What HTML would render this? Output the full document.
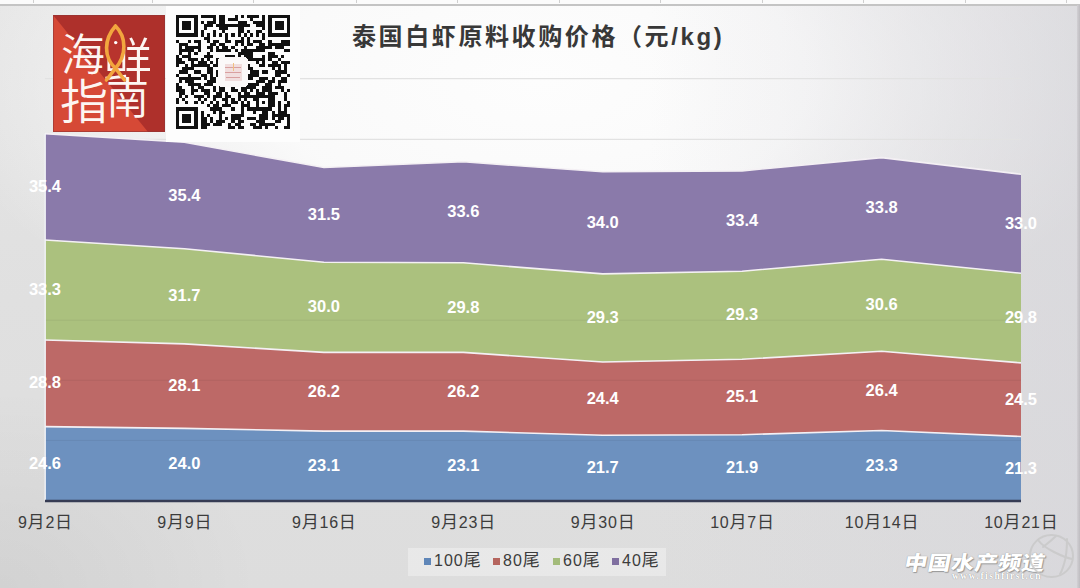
<!DOCTYPE html>
<html><head><meta charset="utf-8">
<style>
*{margin:0;padding:0;box-sizing:border-box}
html,body{width:1080px;height:588px;overflow:hidden}
body{position:relative;font-family:"Liberation Sans","Noto Sans CJK SC",sans-serif;
background:
 linear-gradient(to right, rgba(214,213,219,0) 650px, rgba(214,213,219,0.45) 1000px, rgba(214,213,219,0.6) 1080px),
 radial-gradient(ellipse 600px 300px at 540px 80px, rgba(253,253,253,1) 0%, rgba(251,251,251,0.95) 45%, rgba(248,248,248,0) 100%),
 radial-gradient(ellipse 260px 200px at 0px 588px, rgba(0,0,0,0.05) 0%, rgba(0,0,0,0) 100%),
 linear-gradient(to bottom, #e5e5e5 0px, #e0e0e0 300px, #dddddd 588px);
}
#topstrip{position:absolute;left:0;top:0;width:1080px;height:5.5px;background:#fbfbfb;border-bottom:2.5px solid #c4c4c4}
#topstrip i{position:absolute;top:0;width:1px;height:3px;background:#cfcfcf}
#rb{position:absolute;left:1077px;top:5px;width:3px;height:583px;background:linear-gradient(to right,#d2d0d4,#bebcc0)}
#chart{position:absolute;left:0;top:0}
#chart text{font-family:"Liberation Sans",sans-serif;font-weight:bold;font-size:16.5px;fill:#fff;text-anchor:middle}
.c{font-size:17px}
.cat{position:absolute;top:513px;width:120px;text-align:center;font-size:16px;letter-spacing:0.8px;text-indent:0.8px;color:#3c3c3c;font-family:"Liberation Sans","Noto Sans CJK SC",sans-serif;line-height:20px}
#title{position:absolute;left:352px;top:20px;font-size:24px;letter-spacing:2.6px;font-weight:bold;color:#383838;font-family:"Liberation Sans","Noto Sans CJK SC",sans-serif;white-space:nowrap;line-height:34px}
#legend{position:absolute;left:408px;top:548px;width:258px;height:28px;background:rgba(240,240,240,0.6)}
#legend>span{position:absolute;top:3px;font-size:16px;letter-spacing:1px;color:#3c3c3c;line-height:20px;white-space:nowrap}
#legend b{position:absolute;width:7px;height:7px;top:10px}
#logo{position:absolute;left:53px;top:15px;width:112px;height:117px}
#qrbox{position:absolute;left:166px;top:6px;width:134px;height:136px;background:#fdfdfd}
#wm{position:absolute;left:902px;top:550px;font-size:20px;font-weight:900;color:#fff;letter-spacing:0.4px;white-space:nowrap;transform:skewX(-11deg) scaleX(1.15);transform-origin:0 100%;
 text-shadow:0 0 1px #8a8a8a,1px 1px 1px #999;font-family:"Liberation Sans","Noto Sans CJK SC",sans-serif;line-height:26px}
#wm2{position:absolute;left:952px;top:571px;font-size:9.5px;font-weight:bold;color:#fff;letter-spacing:1.5px;font-family:"Liberation Serif",serif;text-shadow:0 0 1px #777;white-space:nowrap;line-height:10px}
</style></head><body>
<div id="topstrip"><i style="left:33px"></i><i style="left:152px"></i><i style="left:253px"></i><i style="left:356px"></i><i style="left:457px"></i><i style="left:559px"></i><i style="left:660px"></i><i style="left:762px"></i><i style="left:863px"></i><i style="left:965px"></i><i style="left:1066px"></i></div>
<svg id="chart" width="1080" height="588" viewBox="0 0 1080 588">
<line x1="45.0" y1="78.6" x2="1021.0" y2="78.6" stroke="#e2e2e2" stroke-width="1.3"/><line x1="45.0" y1="139.3" x2="1021.0" y2="139.3" stroke="#e2e2e2" stroke-width="1.3"/><polygon points="45.0,426.6 184.4,428.4 323.9,431.1 463.3,431.1 602.7,435.3 742.1,434.7 881.6,430.5 1021.0,436.5 1021.0,500.5 881.6,500.5 742.1,500.5 602.7,500.5 463.3,500.5 323.9,500.5 184.4,500.5 45.0,500.5" fill="#6d91bf"/><polygon points="45.0,340.0 184.4,343.9 323.9,352.4 463.3,352.4 602.7,362.0 742.1,359.3 881.6,351.2 1021.0,362.9 1021.0,436.5 881.6,430.5 742.1,434.7 602.7,435.3 463.3,431.1 323.9,431.1 184.4,428.4 45.0,426.6" fill="#bd6967"/><polygon points="45.0,240.0 184.4,248.7 323.9,262.2 463.3,262.8 602.7,273.9 742.1,271.2 881.6,259.2 1021.0,273.3 1021.0,362.9 881.6,351.2 742.1,359.3 602.7,362.0 463.3,352.4 323.9,352.4 184.4,343.9 45.0,340.0" fill="#abc17e"/><polygon points="45.0,133.6 184.4,142.3 323.9,167.5 463.3,161.8 602.7,171.8 742.1,170.9 881.6,157.6 1021.0,174.2 1021.0,273.3 881.6,259.2 742.1,271.2 602.7,273.9 463.3,262.8 323.9,262.2 184.4,248.7 45.0,240.0" fill="#8a7aaa"/><line x1="45.0" y1="440.4" x2="1021.0" y2="440.4" stroke="#000" stroke-opacity="0.06" stroke-width="1"/><line x1="45.0" y1="380.3" x2="1021.0" y2="380.3" stroke="#000" stroke-opacity="0.06" stroke-width="1"/><line x1="45.0" y1="320.2" x2="1021.0" y2="320.2" stroke="#000" stroke-opacity="0.06" stroke-width="1"/><polyline points="45.0,426.6 184.4,428.4 323.9,431.1 463.3,431.1 602.7,435.3 742.1,434.7 881.6,430.5 1021.0,436.5" fill="none" stroke="#f4f0f4" stroke-width="1.6"/><polyline points="45.0,340.0 184.4,343.9 323.9,352.4 463.3,352.4 602.7,362.0 742.1,359.3 881.6,351.2 1021.0,362.9" fill="none" stroke="#f4f0f4" stroke-width="1.6"/><polyline points="45.0,240.0 184.4,248.7 323.9,262.2 463.3,262.8 602.7,273.9 742.1,271.2 881.6,259.2 1021.0,273.3" fill="none" stroke="#f4f0f4" stroke-width="1.6"/><polyline points="45.0,133.6 184.4,142.3 323.9,167.5 463.3,161.8 602.7,171.8 742.1,170.9 881.6,157.6 1021.0,174.2" fill="none" stroke="#f4f0f4" stroke-width="1.6"/><line x1="45.2" y1="133.6" x2="45.2" y2="500.5" stroke="#f2f3f8" stroke-width="1.4"/><line x1="45.0" y1="501.1" x2="1021.0" y2="501.1" stroke="#363c54" stroke-width="2.5"/>
<text x="45.0" y="468.5">24.6</text><text x="184.4" y="469.4">24.0</text><text x="323.9" y="470.8">23.1</text><text x="463.3" y="470.8">23.1</text><text x="602.7" y="472.9">21.7</text><text x="742.1" y="472.6">21.9</text><text x="881.6" y="470.5">23.3</text><text x="1021.0" y="473.5">21.3</text><text x="45.0" y="388.3">28.8</text><text x="184.4" y="391.2">28.1</text><text x="323.9" y="396.7">26.2</text><text x="463.3" y="396.7">26.2</text><text x="602.7" y="403.6">24.4</text><text x="742.1" y="402.0">25.1</text><text x="881.6" y="395.8">26.4</text><text x="1021.0" y="404.7">24.5</text><text x="45.0" y="295.0">33.3</text><text x="184.4" y="301.3">31.7</text><text x="323.9" y="312.3">30.0</text><text x="463.3" y="312.6">29.8</text><text x="602.7" y="322.9">29.3</text><text x="742.1" y="320.2">29.3</text><text x="881.6" y="310.2">30.6</text><text x="1021.0" y="323.1">29.8</text><text x="45.0" y="191.8">35.4</text><text x="184.4" y="200.5">35.4</text><text x="323.9" y="219.9">31.5</text><text x="463.3" y="217.3">33.6</text><text x="602.7" y="227.8">34.0</text><text x="742.1" y="226.0">33.4</text><text x="881.6" y="213.4">33.8</text><text x="1021.0" y="228.7">33.0</text>
</svg>
<div class="cat" style="left:-15.0px">9<span class="c">月</span>2<span class="c">日</span></div><div class="cat" style="left:124.4px">9<span class="c">月</span>9<span class="c">日</span></div><div class="cat" style="left:263.9px">9<span class="c">月</span>16<span class="c">日</span></div><div class="cat" style="left:403.3px">9<span class="c">月</span>23<span class="c">日</span></div><div class="cat" style="left:542.7px">9<span class="c">月</span>30<span class="c">日</span></div><div class="cat" style="left:682.1px">10<span class="c">月</span>7<span class="c">日</span></div><div class="cat" style="left:821.6px">10<span class="c">月</span>14<span class="c">日</span></div><div class="cat" style="left:961.0px">10<span class="c">月</span>21<span class="c">日</span></div>
<div id="title">泰国白虾原料收购价格（元/kg)</div>
<div id="legend">
<b style="left:16px;background:#5f86b8"></b><span style="left:26px">100<span class="c">尾</span></span>
<b style="left:85px;background:#b5655e"></b><span style="left:95px">80<span class="c">尾</span></span>
<b style="left:145px;background:#a3bb7a"></b><span style="left:155px">60<span class="c">尾</span></span>
<b style="left:204px;background:#7f6fa0"></b><span style="left:214px">40<span class="c">尾</span></span>
</div>
<svg id="logo" width="112" height="117" viewBox="0 0 112 117">
<rect width="112" height="117" fill="#ae302b"/>
<polygon points="0,0 95,117 0,117" fill="#d64936"/>

<g fill="#fdf6f2" font-family="Liberation Sans, Noto Sans CJK SC, sans-serif" font-weight="350">
<text x="8" y="56" font-size="44">海</text>
<text x="50" y="63" font-size="49">鲜</text>
<text x="7" y="104" font-size="48">指</text>
<text x="53" y="99" font-size="43">南</text>
</g>
<path d="M62.5 11 C51 24 50 42 62.5 54 C74 40 73.5 22 62.5 11Z" fill="#b8342d"/>
<path d="M62.5 11 C51 24 50 42 63 54 L71.5 65 M62.5 11 C73.5 22 74 40 62 54 L53.5 65" fill="none" stroke="#f2a63e" stroke-width="3.6" stroke-linecap="round"/>
<circle cx="62.7" cy="27.6" r="1.7" fill="#fff"/>
<rect x="0.5" y="0.5" width="111" height="116" fill="none" stroke="#8f3535" stroke-opacity="0.6"/>
</svg>
<div id="qrbox"></div>
<svg style="position:absolute;left:176px;top:15px" width="114" height="114" viewBox="0 0 37 37" shape-rendering="crispEdges">
<path d="M0 0h7v1h-7zM8 0h5v1h-5zM14 0h2v1h-2zM19 0h1v1h-1zM21 0h1v1h-1zM23 0h4v1h-4zM28 0h1v1h-1zM30 0h7v1h-7zM0 1h1v1h-1zM6 1h1v1h-1zM12 1h1v1h-1zM14 1h2v1h-2zM17 1h3v1h-3zM24 1h1v1h-1zM28 1h1v1h-1zM30 1h1v1h-1zM36 1h1v1h-1zM0 2h1v1h-1zM2 2h3v1h-3zM6 2h1v1h-1zM8 2h1v1h-1zM10 2h3v1h-3zM14 2h2v1h-2zM20 2h3v1h-3zM25 2h4v1h-4zM30 2h1v1h-1zM32 2h3v1h-3zM36 2h1v1h-1zM0 3h1v1h-1zM2 3h3v1h-3zM6 3h1v1h-1zM9 3h3v1h-3zM13 3h11v1h-11zM26 3h3v1h-3zM30 3h1v1h-1zM32 3h3v1h-3zM36 3h1v1h-1zM0 4h1v1h-1zM2 4h3v1h-3zM6 4h1v1h-1zM9 4h1v1h-1zM14 4h3v1h-3zM20 4h2v1h-2zM28 4h1v1h-1zM30 4h1v1h-1zM32 4h3v1h-3zM36 4h1v1h-1zM0 5h1v1h-1zM6 5h1v1h-1zM8 5h1v1h-1zM12 5h1v1h-1zM15 5h1v1h-1zM20 5h2v1h-2zM23 5h1v1h-1zM26 5h2v1h-2zM30 5h1v1h-1zM36 5h1v1h-1zM0 6h7v1h-7zM8 6h1v1h-1zM10 6h1v1h-1zM12 6h1v1h-1zM14 6h1v1h-1zM16 6h1v1h-1zM18 6h1v1h-1zM20 6h1v1h-1zM22 6h1v1h-1zM24 6h1v1h-1zM26 6h1v1h-1zM28 6h1v1h-1zM30 6h7v1h-7zM9 7h2v1h-2zM16 7h1v1h-1zM21 7h1v1h-1zM23 7h1v1h-1zM28 7h1v1h-1zM0 8h1v1h-1zM4 8h1v1h-1zM6 8h2v1h-2zM10 8h1v1h-1zM12 8h2v1h-2zM16 8h2v1h-2zM19 8h3v1h-3zM23 8h1v1h-1zM25 8h3v1h-3zM30 8h1v1h-1zM34 8h3v1h-3zM1 9h3v1h-3zM7 9h1v1h-1zM11 9h2v1h-2zM14 9h2v1h-2zM19 9h1v1h-1zM21 9h1v1h-1zM23 9h2v1h-2zM27 9h2v1h-2zM30 9h7v1h-7zM1 10h1v1h-1zM3 10h5v1h-5zM10 10h2v1h-2zM13 10h1v1h-1zM15 10h2v1h-2zM18 10h1v1h-1zM22 10h1v1h-1zM26 10h5v1h-5zM32 10h3v1h-3zM1 11h5v1h-5zM7 11h1v1h-1zM11 11h1v1h-1zM13 11h5v1h-5zM19 11h1v1h-1zM21 11h8v1h-8zM35 11h2v1h-2zM1 12h1v1h-1zM4 12h1v1h-1zM6 12h1v1h-1zM10 12h1v1h-1zM20 12h5v1h-5zM30 12h2v1h-2zM0 13h1v1h-1zM2 13h3v1h-3zM9 13h3v1h-3zM16 13h3v1h-3zM20 13h1v1h-1zM22 13h3v1h-3zM28 13h1v1h-1zM30 13h3v1h-3zM34 13h1v1h-1zM0 14h2v1h-2zM4 14h3v1h-3zM8 14h1v1h-1zM10 14h1v1h-1zM13 14h1v1h-1zM23 14h6v1h-6zM30 14h1v1h-1zM33 14h1v1h-1zM0 15h3v1h-3zM5 15h1v1h-1zM7 15h3v1h-3zM11 15h1v1h-1zM13 15h1v1h-1zM26 15h1v1h-1zM28 15h1v1h-1zM31 15h2v1h-2zM34 15h3v1h-3zM0 16h1v1h-1zM3 16h1v1h-1zM5 16h6v1h-6zM12 16h2v1h-2zM23 16h1v1h-1zM27 16h2v1h-2zM30 16h4v1h-4zM35 16h1v1h-1zM2 17h4v1h-4zM10 17h2v1h-2zM23 17h2v1h-2zM31 17h1v1h-1zM33 17h1v1h-1zM35 17h1v1h-1zM1 18h3v1h-3zM6 18h2v1h-2zM10 18h2v1h-2zM13 18h1v1h-1zM24 18h3v1h-3zM28 18h2v1h-2zM32 18h4v1h-4zM0 19h1v1h-1zM4 19h1v1h-1zM8 19h2v1h-2zM11 19h1v1h-1zM13 19h1v1h-1zM23 19h4v1h-4zM32 19h2v1h-2zM36 19h1v1h-1zM1 20h7v1h-7zM9 20h1v1h-1zM11 20h2v1h-2zM23 20h2v1h-2zM27 20h3v1h-3zM31 20h1v1h-1zM34 20h2v1h-2zM1 21h1v1h-1zM3 21h3v1h-3zM10 21h3v1h-3zM26 21h3v1h-3zM30 21h2v1h-2zM33 21h3v1h-3zM0 22h1v1h-1zM4 22h4v1h-4zM9 22h3v1h-3zM23 22h4v1h-4zM29 22h2v1h-2zM33 22h1v1h-1zM0 23h2v1h-2zM5 23h1v1h-1zM7 23h2v1h-2zM12 23h1v1h-1zM14 23h2v1h-2zM18 23h1v1h-1zM21 23h5v1h-5zM28 23h3v1h-3zM32 23h3v1h-3zM0 24h3v1h-3zM5 24h2v1h-2zM8 24h3v1h-3zM12 24h1v1h-1zM14 24h2v1h-2zM18 24h2v1h-2zM21 24h2v1h-2zM24 24h1v1h-1zM26 24h1v1h-1zM28 24h3v1h-3zM34 24h1v1h-1zM36 24h1v1h-1zM1 25h2v1h-2zM5 25h1v1h-1zM9 25h2v1h-2zM13 25h2v1h-2zM16 25h1v1h-1zM20 25h1v1h-1zM22 25h2v1h-2zM26 25h3v1h-3zM30 25h3v1h-3zM35 25h1v1h-1zM1 26h1v1h-1zM3 26h1v1h-1zM6 26h3v1h-3zM10 26h1v1h-1zM12 26h3v1h-3zM16 26h2v1h-2zM20 26h12v1h-12zM35 26h1v1h-1zM0 27h1v1h-1zM2 27h1v1h-1zM7 27h1v1h-1zM9 27h1v1h-1zM12 27h1v1h-1zM15 27h2v1h-2zM18 27h1v1h-1zM20 27h1v1h-1zM22 27h1v1h-1zM25 27h2v1h-2zM30 27h2v1h-2zM35 27h1v1h-1zM0 28h1v1h-1zM3 28h1v1h-1zM6 28h1v1h-1zM8 28h1v1h-1zM11 28h1v1h-1zM13 28h1v1h-1zM16 28h1v1h-1zM18 28h2v1h-2zM21 28h1v1h-1zM23 28h1v1h-1zM26 28h1v1h-1zM28 28h1v1h-1zM30 28h2v1h-2zM33 28h1v1h-1zM36 28h1v1h-1zM10 29h1v1h-1zM12 29h2v1h-2zM15 29h3v1h-3zM21 29h3v1h-3zM26 29h1v1h-1zM30 29h2v1h-2zM33 29h1v1h-1zM35 29h2v1h-2zM0 30h7v1h-7zM11 30h4v1h-4zM18 30h1v1h-1zM21 30h1v1h-1zM23 30h8v1h-8zM33 30h1v1h-1zM35 30h1v1h-1zM0 31h1v1h-1zM6 31h1v1h-1zM8 31h1v1h-1zM12 31h1v1h-1zM14 31h2v1h-2zM21 31h1v1h-1zM25 31h1v1h-1zM28 31h2v1h-2zM31 31h1v1h-1zM33 31h3v1h-3zM0 32h1v1h-1zM2 32h3v1h-3zM6 32h1v1h-1zM8 32h1v1h-1zM10 32h1v1h-1zM14 32h1v1h-1zM18 32h4v1h-4zM27 32h3v1h-3zM31 32h6v1h-6zM0 33h1v1h-1zM2 33h3v1h-3zM6 33h1v1h-1zM8 33h2v1h-2zM11 33h1v1h-1zM14 33h1v1h-1zM16 33h1v1h-1zM18 33h3v1h-3zM23 33h3v1h-3zM27 33h3v1h-3zM31 33h1v1h-1zM33 33h2v1h-2zM36 33h1v1h-1zM0 34h1v1h-1zM2 34h3v1h-3zM6 34h1v1h-1zM8 34h2v1h-2zM11 34h1v1h-1zM13 34h3v1h-3zM18 34h1v1h-1zM20 34h2v1h-2zM26 34h3v1h-3zM32 34h2v1h-2zM36 34h1v1h-1zM0 35h1v1h-1zM6 35h1v1h-1zM8 35h3v1h-3zM12 35h3v1h-3zM17 35h1v1h-1zM19 35h2v1h-2zM24 35h2v1h-2zM27 35h5v1h-5zM36 35h1v1h-1zM0 36h7v1h-7zM8 36h2v1h-2zM17 36h2v1h-2zM20 36h2v1h-2zM25 36h3v1h-3zM29 36h1v1h-1zM32 36h1v1h-1zM35 36h2v1h-2z" fill="#111"/>
<rect x="13.7" y="13.7" width="9.6" height="9.6" rx="1" fill="#fbf9f9"/>
<rect x="15.8" y="16" width="5.6" height="5.4" fill="#f1dede"/>
<path d="M16 17h5M16 18.6h5M16.3 20.2h4.6" stroke="#d9a0a0" stroke-width="0.45"/>
<path d="M18.6 15.6v2.6" stroke="#f0c080" stroke-width="0.5"/>
</svg>
<div id="wm">中国水产频道</div>
<div id="wm2">www.fishfirst.cn</div>
<svg style="position:absolute;left:1026px;top:534px" width="50" height="46" viewBox="0 0 50 46">
<g fill="none" stroke="#c8c8c8" stroke-width="2" opacity="0.8" stroke-linecap="round">
<ellipse cx="25.5" cy="22" rx="21.5" ry="21"/>
<path d="M12 6 C15 10 20 14 28 18 S40 24 46 25"/>
<path d="M30 2 C26 6 21 10 17 13"/>
<path d="M41 5 C41 14 40 24 38 30 S36 37 34 40"/>
</g>
</svg>
<div id="rb"></div>
</body></html>
